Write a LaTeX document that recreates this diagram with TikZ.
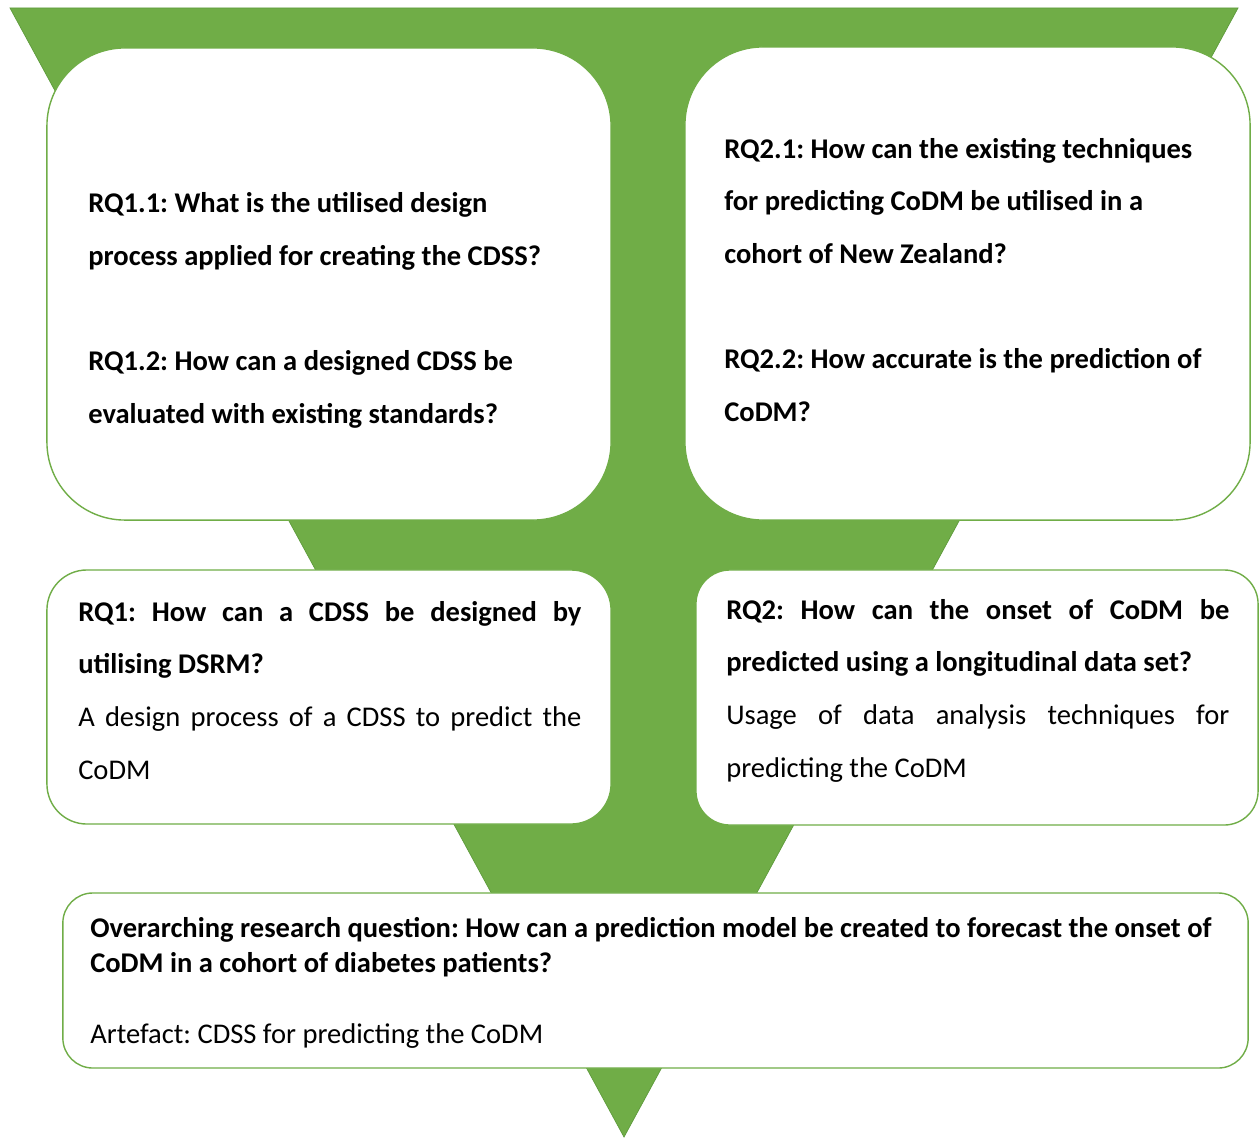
\documentclass[tikz,border=0pt]{standalone}
\usepackage{fontspec}
\setmainfont{Carlito}
\frenchspacing
\definecolor{funnel}{HTML}{70AD47}
\definecolor{funneledge}{HTML}{5E9B3C}

\begin{document}
\begin{tikzpicture}[x=0.025cm, y=-0.025cm,
        qbox/.style={draw=funnel, line width=1pt, fill=white, inner sep=0pt},
        qtext/.style={inner sep=0pt, align=left, anchor=base west,
            font=\fontsize{20.3}{37.4}\selectfont\bfseries},
        wide/.style={qtext, font=\fontsize{20.3}{24.9}\selectfont\bfseries}]
            \useasboundingbox (0,0) rectangle (1260,1137);

            \filldraw[fill=funnel, draw=funneledge, line width=0.5pt]
                (10,8) coordinate (topleft) -- (1238,8) coordinate (topright)
                -- (624,1137) coordinate (tip) -- cycle;

            \node[qbox, rounded corners=1.95cm, minimum width=14.1cm, minimum height=11.8cm]
                (subone) at (329,284) {};
            \node[qbox, rounded corners=1.95cm, minimum width=14.125cm, minimum height=11.825cm]
                (subtwo) at (967.5,283.5) {};
            \node[qbox, rounded corners=1cm, minimum width=14.1cm, minimum height=6.35cm]
                (rqone) at (329,697) {};
            \node[qbox, rounded corners=0.85cm, minimum width=14.05cm, minimum height=6.375cm]
                (rqtwo) at (977,697.5) {};
            \node[qbox, rounded corners=0.75cm, minimum width=29.625cm, minimum height=4.375cm]
                (overall) at (655.5,980.5) {};

            \node[qtext] (subonetext) at (88,423)
                {RQ1.1: What is the utilised design\\
                 process applied for creating the CDSS?\\[37.4pt]
                 RQ1.2: How can a designed CDSS be\\
                 evaluated with existing standards?};
            \node[qtext] (subtwotext) at (724,421)
                {RQ2.1: How can the existing techniques\\
                 for predicting CoDM be utilised in a\\
                 cohort of New Zealand?\\[37.4pt]
                 RQ2.2: How accurate is the prediction of\\
                 CoDM?};
            \node[qtext] (rqonetext) at (78,779)
                {\makebox[12.575cm][s]{RQ1: How can a CDSS be designed by}\\
                 utilising DSRM?\\
                 \textmd{\makebox[12.575cm][s]{A design process of a CDSS to predict the}}\\
                 \textmd{CoDM}};
            \node[qtext] (rqtwotext) at (726,777)
                {\makebox[12.575cm][s]{RQ2: How can the onset of CoDM be}\\
                 predicted using a longitudinal data set?\\
                 \textmd{\makebox[12.575cm][s]{Usage of data analysis techniques for}}\\
                 \textmd{predicting the CoDM}};
            \node[wide] (overalltext) at (90,1043)
                {Overarching research question: How can a prediction model be created to forecast the onset of\\
                 CoDM in a cohort of diabetes patients?\\[24.9pt]
                 \textmd{Artefact: CDSS for predicting the CoDM}};
        \end{tikzpicture}
\end{document}
